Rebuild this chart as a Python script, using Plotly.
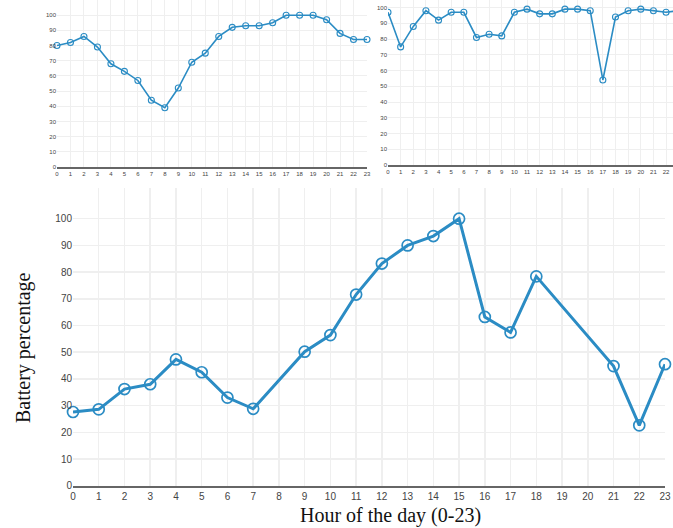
import plotly.graph_objects as go

W, H = 673, 528

hours = list(range(24))
day1_battery = [80, 82, 86, 79, 68, 63, 57, 44, 39, 52, 69, 75, 86, 92, 93, 93, 95, 100, 100, 100, 97, 88, 84, 84]
day2_battery = [97, 75, 88, 98, 92, 97, 97, 81, 83, 82, 97, 99, 96, 96, 99, 99, 98, 54, 94, 98, 99, 98, 97, 98]
day3_hours = [0, 1, 2, 3, 4, 5, 6, 7, 9, 10, 11, 12, 13, 14, 15, 16, 17, 18, 21, 22, 23]
day3_battery = [27.6, 28.6, 36.2, 38, 47.3, 42.5, 33, 28.8, 50.2, 56.4, 71.6, 83.2, 90, 93.5, 100, 63.2,
                57.4, 78.4, 44.8, 22.6, 45.5]
y_ticks = list(range(0, 101, 10))

COLOR = "#2b8cc4"
GRID = "#efefef"
TICKC = "#444444"
SANS = "Liberation Sans, Arial, sans-serif"
SERIF = "Liberation Serif, Times New Roman, serif"


def dx(a, b):
    return [a / W, b / W]


def dy(top, bottom):
    return [(H - bottom) / H, (H - top) / H]


fig = go.Figure()

fig.add_trace(go.Scatter(x=hours, y=day1_battery, mode="lines+markers", xaxis="x", yaxis="y",
                         line=dict(color=COLOR, width=1.6),
                         marker=dict(symbol="circle-open", size=6, color=COLOR, line=dict(width=1.1)),
                         cliponaxis=False, showlegend=False))
fig.add_trace(go.Scatter(x=hours, y=day2_battery, mode="lines+markers", xaxis="x2", yaxis="y2",
                         line=dict(color=COLOR, width=1.6),
                         marker=dict(symbol="circle-open", size=6, color=COLOR, line=dict(width=1.1)),
                         cliponaxis=True, showlegend=False))
fig.add_trace(go.Scatter(x=day3_hours, y=day3_battery, mode="lines+markers", xaxis="x3", yaxis="y3",
                         line=dict(color=COLOR, width=3),
                         marker=dict(symbol="circle-open", size=11, color=COLOR, line=dict(width=1.7)),
                         cliponaxis=False, showlegend=False))


def xax(domain, rng, anchor, fs, lw):
    return dict(domain=domain, range=rng, anchor=anchor, tickmode="array", tickvals=hours,
                ticktext=[str(h) for h in hours], showgrid=True, gridcolor=GRID, gridwidth=lw,
                zeroline=False, showline=True, linecolor="#666666", linewidth=lw + 0.5,
                tickfont=dict(family=SANS, size=fs, color=TICKC), ticks="", fixedrange=True,
                automargin=False)


def yax(domain, rng, anchor, fs, lw):
    return dict(domain=domain, range=rng, anchor=anchor, tickmode="array", tickvals=y_ticks,
                showgrid=True, gridcolor=GRID, gridwidth=lw, zeroline=False, showline=False,
                tickfont=dict(family=SANS, size=fs, color=TICKC), ticks="", fixedrange=True,
                automargin=False)


fig.update_layout(
    width=W, height=H,
    margin=dict(l=0, r=0, t=0, b=0, autoexpand=False),
    paper_bgcolor="white", plot_bgcolor="white",
    hovermode=False,
    xaxis=xax(dx(57, 367), [0, 23], "y", 6, 1),
    yaxis=yax(dy(0, 167), [0, 110], "x", 6, 1),
    xaxis2=xax(dx(388, 673), [0, 22.55], "y2", 6, 1),
    yaxis2=yax(dy(0, 165), [0, 104.8], "x2", 6, 1),
    xaxis3=xax(dx(73, 665), [0, 23], "y3", 10, 1.5),
    yaxis3=yax(dy(188, 485.7), [0, 111.5], "x3", 10, 1.5),
    annotations=[
        dict(text="Battery percentage", xref="paper", yref="paper", x=23 / W, y=(H - 348) / H,
             textangle=-90, showarrow=False, xanchor="center", yanchor="middle",
             font=dict(family=SERIF, size=20, color="#111111")),
        dict(text="Hour of the day (0-23)", xref="paper", yref="paper", x=390 / W, y=(H - 515) / H,
             showarrow=False, xanchor="center", yanchor="middle",
             font=dict(family=SERIF, size=20, color="#111111")),
    ],
)

fig.write_html("out.html", config={"displayModeBar": False, "staticPlot": True},
               post_script="document.body.style.margin='0';document.body.style.overflow='hidden';")
